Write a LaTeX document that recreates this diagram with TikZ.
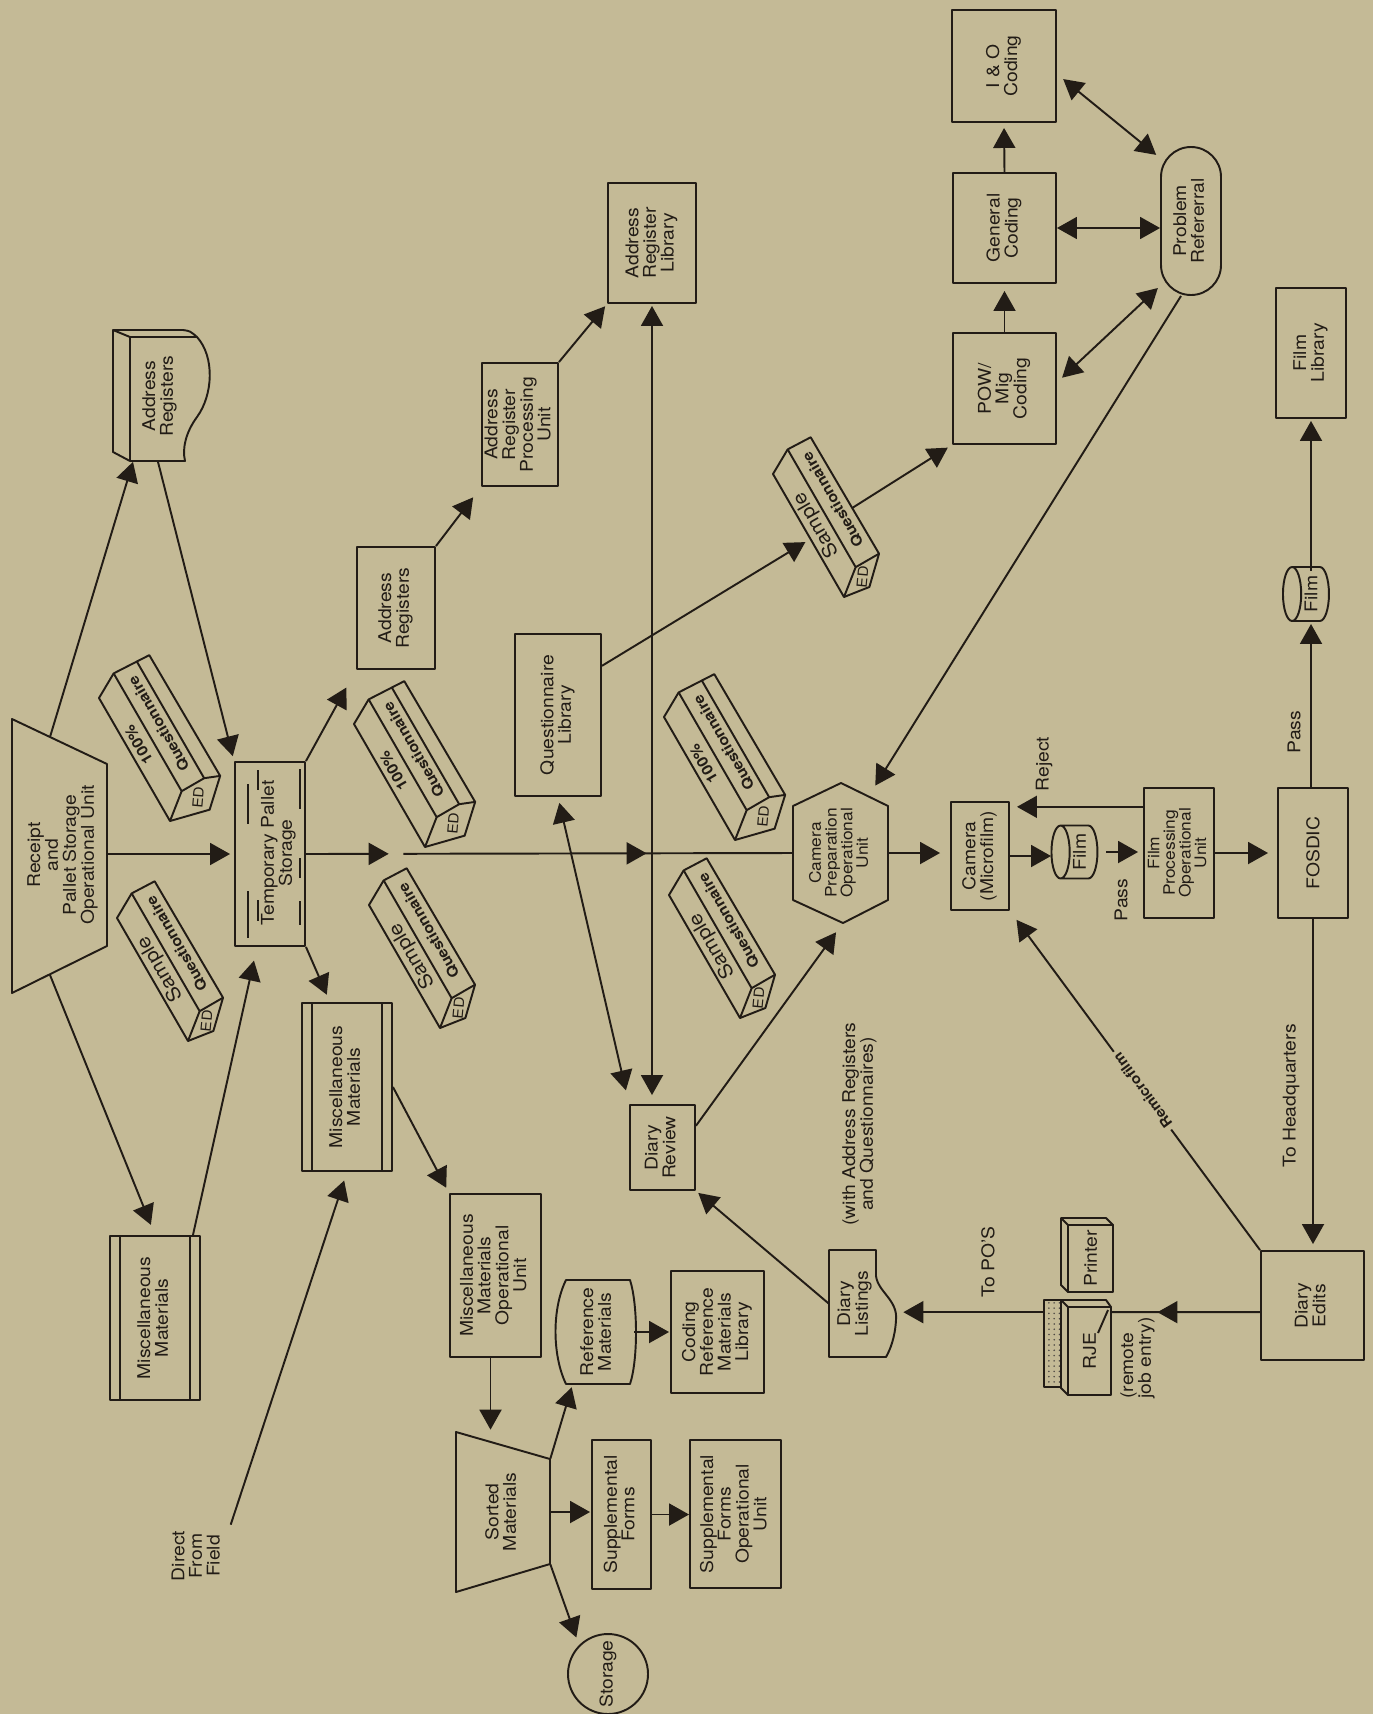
\documentclass[tikz,border=0pt]{standalone}
\usepackage{fontspec}
\setmainfont{TeX Gyre Heros}[FakeStretch=1.1]
\usepackage{graphicx}
\usepackage{tikz}
\usetikzlibrary{arrows.meta, calc, shapes.geometric, patterns}
\definecolor{paper}{RGB}{196,186,150}
\definecolor{ink}{RGB}{34,28,22}

\newcommand\vt[1]{\rotatebox{90}{\begin{tabular}{@{}c@{}}#1\end{tabular}}}
% bundle of questionnaires for one ED: name, lower corner, label, 1 = 100% box
\newcommand\edbox[4]{%
  \begin{scope}[shift={#2}, x=0.02cm, y=0.02cm, rotate=120, transform shape, every node/.append style={inner sep=0pt}]
    \coordinate (#1-in) at (67,0);
    \coordinate (#1-out) at (73,-52);
    \ifnum#4=1
      \draw[wire] (0,0) -- (142,0) -- (156,-25) -- (154,-65) -- (14,-66) -- (-10,-40) -- cycle;
      \draw[wire] (0,0) -- (20,-25) -- (156,-25) (20,-25) -- (20,-51) -- (155,-51) (20,-51) -- (14,-66);
      \node[font=\bfseries\fontsize{8.5}{8.5}\selectfont] (#1-l) at (82,-11) {#3};
      \node[font=\fontsize{8}{8}\selectfont, rotate=-35] (#1-ed) at (6,-36) {ED};
    \else
      \draw[wire] (0,0) -- (142,0) -- (156,-25) -- (155,-51) -- (20,-52) -- (-4,-27) -- cycle;
      \draw[wire] (0,0) -- (20,-25) -- (156,-25) (20,-25) -- (20,-52);
      \node[font=\fontsize{11}{11}\selectfont] (#1-l) at (76,-12) {#3};
      \node[font=\fontsize{8}{8}\selectfont, rotate=-35] (#1-ed) at (8,-26) {ED};
    \fi
    \node[font=\bfseries\fontsize{8.3}{8.5}\selectfont] (#1-q) at (90,-39) {Questionnaire};
  \end{scope}}

\begin{document}
\begin{tikzpicture}[x=0.02cm, y=-0.02cm, line join=round,
    >={Triangle[length=0.4cm, width=0.44cm]},
    every node/.style={text=ink, font=\fontsize{10}{9.2}\selectfont},
    tight/.style={font=\fontsize{9}{7.6}\selectfont},
    sz/.style 2 args={minimum width=#1*0.02cm, minimum height=#2*0.02cm},
    box/.style={draw=ink, line width=1.1pt, inner sep=0pt},
    ghost/.style={inner sep=0pt},
    wire/.style={draw=ink, line width=1.1pt},
    arr/.style={wire, ->},
    darr/.style={wire, <->},
    bars/.style={path picture={\draw[ink, line width=1.1pt]
      ([xshift=0.2cm]path picture bounding box.north west) -- ([xshift=0.2cm]path picture bounding box.south west)
      ([xshift=-0.2cm]path picture bounding box.north east) -- ([xshift=-0.2cm]path picture bounding box.south east);}}]
  \useasboundingbox (0,0) rectangle (1373,1714);
  \fill[paper] (0,0) rectangle (1373,1714);

  % receipt and storage
  \node[ghost, sz={95}{274}] (rcpt) at (63,855) {\vt{Receipt\\and\\Pallet Storage\\Operational Unit}};
  \draw[wire] (12,719) -- (107,764) -- (107,946) -- (12,993) -- cycle;
  \coordinate (rcpt-n) at (50,737);
  \coordinate (rcpt-s) at (50,975);
  \coordinate (rcpt-e) at (107,854);

  \node[box, sz={70}{184}] (tps) at (270,854) {};
  \node (tps-t) at (279,853) {\vt{Temporary Pallet\\Storage}};
  \draw[wire, line width=0.9pt] (248,784) -- (248,824) (248,891) -- (248,938)
    (258,770) -- (258,790) (258,900) -- (258,921)
    (300,769) -- (300,809) (300,858) -- (300,878) (300,901) -- (300,925);

  % address registers (document)
  \node[ghost, sz={95}{131}] (ardoc) at (160,396) {\vt{Address\\Registers}};
  \draw[wire] (130,337) -- (197,337) .. controls (215,357) and (213,395) .. (197,417)
    .. controls (186,432) and (182,448) .. (185,461) -- (130,461) -- cycle;
  \draw[wire] (130,337) -- (113,330) -- (183,330) .. controls (190,331) .. (197,337);
  \draw[wire] (113,330) -- (113,452) -- (130,461);

  \node[box, bars, sz={90}{164}] (mml) at (155,1318) {\vt{Miscellaneous\\Materials}};
  \node[box, bars, sz={90}{168}] (mmm) at (347,1087) {\vt{Miscellaneous\\Materials}};
  \node (dff) at (198,1556) {\vt{Direct\\From\\Field}};

  \node[box, sz={78}{122}] (arB) at (396,608) {\vt{Address\\Registers}};
  \node[box, sz={76}{123}] (arP) at (520,424.5) {\vt{Address\\Register\\Processing\\Unit}};
  \node[box, sz={88}{120}] (arL) at (652,243) {\vt{Address\\Register\\Library}};
  \node[box, sz={86}{162}] (qlib) at (558,715) {\vt{Questionnaire\\Library}};
  \node[box, sz={65}{85}] (drev) at (662.5,1147.5) {\vt{Diary\\Review}};

  % sorting of miscellaneous materials
  \node[box, sz={91}{163}] (mmou) at (495.5,1275.5) {\vt{Miscellaneous\\Materials\\Operational\\Unit}};
  \node[ghost, sz={94}{160}] (sm) at (503,1512) {\vt{Sorted\\Materials}};
  \draw[wire] (456,1432) -- (550,1459) -- (550,1564) -- (456,1592) -- cycle;
  \node[ghost, sz={72}{104}] (refm) at (598,1332) {\vt{Reference\\Materials}};
  \draw[wire] (566,1280) -- (630,1280) .. controls (638,1305) and (638,1360) .. (630,1384)
    -- (566,1384) .. controls (552,1355) and (552,1308) .. (566,1280) -- cycle;
  \node[box, sz={93}{122}] (crml) at (717.5,1332) {\vt{Coding\\Reference\\Materials\\Library}};
  \node[box, sz={59}{149}] (supf) at (621.5,1514.5) {\vt{Supplemental\\Forms}};
  \node[box, sz={91}{148}] (sfou) at (735.5,1514) {\vt{Supplemental\\Forms\\Operational\\Unit}};
  \node[box, circle, sz={80}{80}] (stor) at (608,1674) {\rotatebox{90}{Storage}};

  % camera and film
  \node[ghost, tight, sz={95}{140}] (cprep) at (840.5,853) {\vt{Camera\\Preparation\\Operational\\Unit}};
  \draw[wire] (841,783) -- (888,806) -- (888,900) -- (843,923) -- (793,900) -- (793,806) -- cycle;
  \node[box, sz={58}{108}] (cam) at (980,856) {\vt{Camera\\(Microfilm)}};
  \node[box, cylinder, shape border rotate=180, aspect=0.5, sz={53}{46}] (film1) at (1079.5,852) {\rotatebox{90}{Film}};
  \node[box, tight, sz={70}{130}] (fpou) at (1179,853) {\vt{Film\\Processing\\Operational\\Unit}};
  \node[box, sz={70}{130}] (fosdic) at (1313,853) {\rotatebox{90}{FOSDIC}};
  \node[box, cylinder, shape border rotate=180, aspect=0.5, sz={54}{46}] (film2) at (1311,594) {\rotatebox{90}{Film}};
  \node[box, sz={70}{130}] (flib) at (1311,353) {\vt{Film\\Library}};
  \node[box, sz={103}{109}] (dedit) at (1312.5,1305.5) {\vt{Diary\\Edits}};

  % coding
  \node[box, sz={103}{111}] (pow) at (1004.5,388.5) {\vt{POW/\\Mig\\Coding}};
  \node[box, sz={103}{110}] (gen) at (1004.5,228) {\vt{General\\Coding}};
  \node[box, sz={104}{112}] (io) at (1004,66) {\vt{I \& O\\Coding}};
  \node[box, rounded corners=0.6cm, sz={60}{148}] (prob) at (1191,221) {\vt{Problem\\Refererral}};

  % listings, printer, RJE
  \node[ghost, sz={52}{107}] (dlist) at (855,1303.5) {\vt{Diary\\Listings}};
  \draw[wire] (829,1250) -- (876,1250) -- (876,1276) .. controls (878,1292) and (898,1300) .. (896,1320)
    .. controls (895,1338) and (890,1350) .. (886,1357) -- (829,1357) -- cycle;
  \node[ghost, sz={45}{67}] (prn) at (1090.5,1258.5) {\rotatebox{90}{Printer}};
  \draw[wire] (1061,1218) -- (1106,1218) -- (1113,1225) -- (1113,1292) -- (1068,1292) -- (1061,1285) -- cycle;
  \draw[wire] (1061,1218) -- (1068,1225) -- (1113,1225) (1068,1225) -- (1068,1292);
  \node[draw=ink, line width=1.1pt, pattern=dots, pattern color=ink!80, inner sep=0pt, sz={17}{87}] (rjes) at (1052.5,1343.5) {};
  \node[ghost, sz={43}{88}] (rje) at (1089.5,1351) {\rotatebox{90}{RJE}};
  \draw[wire] (1061,1300) -- (1106,1300) -- (1111,1307) -- (1111,1395) -- (1068,1395) -- (1061,1388) -- cycle;
  \draw[wire] (1061,1300) -- (1068,1307) -- (1111,1307) (1068,1307) -- (1068,1395);
  \draw[wire] (1098,1333) -- (1108,1310);
  \node (rjel) at (1138,1358) {\rotatebox{90}{\begin{tabular}{@{}l@{}}(remote\\job entry)\end{tabular}}};

  % questionnaire bundles
  \edbox{qa}{(170,821)}{100\%}{1}
  \edbox{qb}{(188,1041)}{Sample}{0}
  \edbox{qc}{(425,847)}{100\%}{1}
  \edbox{qd}{(440,1028)}{Sample}{0}
  \edbox{qe}{(735,840)}{100\%}{1}
  \edbox{qf}{(740,1018)}{Sample}{0}
  \edbox{qg}{(844,597)}{Sample}{0}

  % labels
  \node[rotate=90] (lrej) at (1044,764) {Reject};
  \node[rotate=90] (lpass1) at (1121,900) {Pass};
  \node[rotate=90] (lpass2) at (1294,732) {Pass};
  \node[rotate=90] (lhq) at (1291,1096) {To Headquarters};
  \node[rotate=90] (lpos) at (988,1262) {To PO'S};
  \node (lwith) at (860,1124) {\vt{(with Address Registers\\and Questionnaires)}};

  % flow from receipt
  \draw[arr] (rcpt-n) -- ($(ardoc.south)+(-27,0)$);
  \draw[arr, shorten >=0.1cm] ($(ardoc.south)+(-2,0)$) -- (tps.north west);
  \draw[arr, shorten >=0.08cm] (rcpt-e) -- (tps.west);
  \draw[arr, shorten >=0.22cm] (rcpt-s) -- (mml.north);
  \draw[arr, shorten >=0.28cm] ($(mml.north east)+(-8,0)$) -- ($(tps.south)+(-13,0)$);
  \draw[arr, shorten >=0.16cm] (tps.south east) -- ($(mmm.north)+(-17,0)$);
  \draw[arr, shorten >=0.18cm] (dff.north east) -- (mmm.south);
  \draw[arr, shorten >=0.12cm] (mmm.east) -- (mmou.north west);
  \draw[arr, shorten >=0.4cm] (tps.north east) -- (arB.south west);
  \draw[arr, shorten >=0.26cm] (arB.north east) -- (arP.south west);
  \draw[arr, shorten >=0.06cm] (arP.north east) -- (arL.south west);
  \draw[darr, shorten <=0.04cm, shorten >=0.18cm] (arL.south) -- (arL.south |- drev.north);
  \draw[darr, shorten <=0.12cm, shorten >=0.28cm] (qlib.south) -- (drev.north west);
  \draw[arr, shorten >=0.12cm] ($(qlib.north east)!0.2!(qlib.south east)$) -- (qg-in);

  % main line
  \draw[arr] (tps.east) -- ($(tps.east)!0.17!(cprep.west)$);
  \draw[arr] ($(tps.east)!0.2!(cprep.west)$) -- ($(tps.east)!0.70!(cprep.west)$);
  \draw[wire] ($(tps.east)!0.69!(cprep.west)$) -- (cprep.west);
  \draw[arr, shorten >=0.2cm] (cprep.east) -- (cprep.east -| cam.west);
  \draw[arr, shorten >=0.57cm] (cam.east) -- (cam.east -| film1.center);
  \draw[arr, shorten <=0.53cm, shorten >=0.1cm] (film1.center) -- (film1.center -| fpou.west);
  \draw[arr, shorten >=0.14cm] ($(fpou.north west)!0.15!(fpou.south west)$) coordinate (rj) -- (rj -| cam.east);
  \draw[arr, shorten >=0.18cm] (fpou.east) -- (fpou.east -| fosdic.west);
  \draw[arr, shorten >=0.6cm] (film2.center |- fosdic.north) -- (film2.center);
  \draw[arr, shorten <=0.46cm, shorten >=0.04cm] (film2.center) -- (film2.center |- flib.south);
  \draw[arr, shorten >=0.12cm] (fosdic.south) -- (fosdic.south |- dedit.north);
  \draw[arr, shorten >=0.22cm] (dedit.north west) -- node[sloped, allow upside down, pos=0.47, fill=paper,
    inner sep=2pt, font=\bfseries\fontsize{8}{8}\selectfont] (lremi) {Remicrofilm} (cam.south east);

  % coding and referral
  \draw[arr, shorten >=0.1cm] (qg-out) -- (pow.south west);
  \draw[arr, shorten >=0.14cm] (pow.north) -- (gen.south);
  \draw[arr, shorten >=0.1cm] (gen.north) -- (io.south);
  \draw[darr, shorten <=0.16cm, shorten >=0.1cm] ($(io.east)+(0,8)$) -- ($(prob.north west)+(0,12)$);
  \draw[darr] (gen.east) -- (gen.east -| prob.west);
  \draw[darr, shorten <=0.14cm, shorten >=0.06cm] ($(pow.east)+(0,-6)$) -- ($(prob.south west)+(0,-10)$);
  \draw[arr, shorten >=0.26cm] ($(prob.south)+(-10,0)$) -- ($(cprep.north east)+(-20,14)$);
  \draw[arr, shorten >=0.22cm] ($(drev.north east)!0.25!(drev.south east)$) -- ($(cprep.south)+(2,0)$);

  % edits and listings
  \coordinate (de-w) at ($(dedit.north west)!0.56!(dedit.south west)$);
  \draw[arr] (de-w) -- ($(de-w -| rje.east)!0.31!(de-w)$);
  \draw[wire] ($(de-w -| rje.east)!0.33!(de-w)$) -- (de-w -| rje.east);
  \draw[arr, shorten >=0.44cm] (de-w -| rjes.west) -- (de-w -| dlist.east);
  \draw[arr, shorten >=0.06cm] (dlist.west) -- (drev.south east);

  % sorted materials
  \coordinate (mo-s) at ($(mmou.south)+(-5,0)$);
  \draw[arr, shorten >=0.04cm] (mo-s) -- (mo-s |- sm.north);
  \draw[arr, shorten >=0.06cm] ($(sm.north east)+(0,27)$) -- ($(refm.south west)!0.15!(refm.south east)$);
  \draw[arr, shorten >=0.02cm] (sm.east) -- (sm.east -| supf.west);
  \draw[arr, shorten >=0.16cm] ($(sm.south east)+(0,-28)$) -- (stor.north west);
  \draw[arr, shorten >=0.02cm] (refm.east) -- (refm.east -| crml.west);
  \draw[arr] (supf.east) -- (supf.east -| sfou.west);
\end{tikzpicture}
\end{document}
